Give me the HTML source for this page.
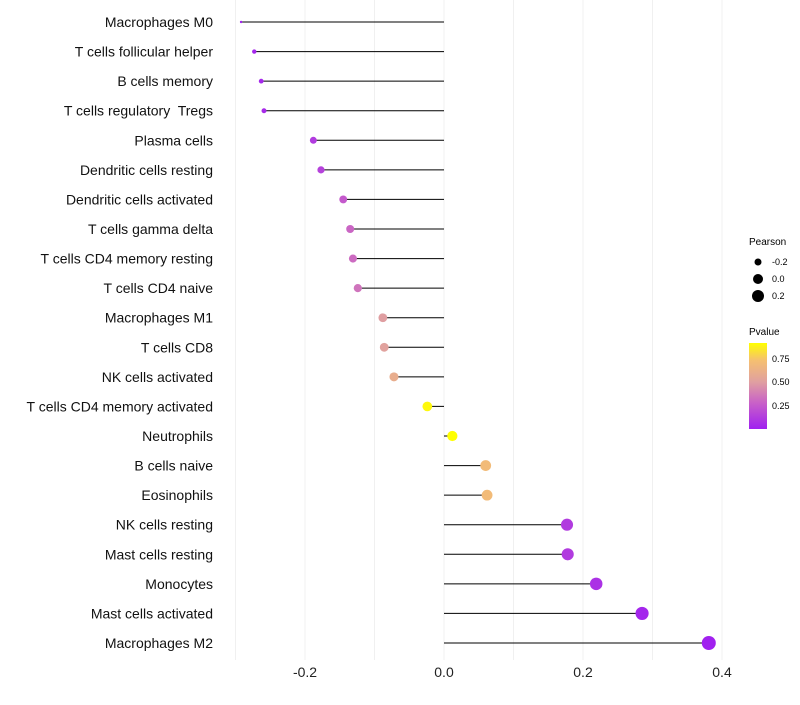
<!DOCTYPE html>
<html><head><meta charset="utf-8"><style>
body{margin:0;background:#fff;font-family:"Liberation Sans",sans-serif}
</style></head><body>
<svg id="chart" width="800" height="700" xmlns="http://www.w3.org/2000/svg">
<defs><linearGradient id="pg" x1="0" y1="1" x2="0" y2="0">
<stop offset="0" stop-color="#a020f0"/><stop offset="0.3" stop-color="#c860c8"/><stop offset="0.55" stop-color="#e0a0a0"/><stop offset="0.8" stop-color="#f5c070"/><stop offset="1" stop-color="#ffff00"/></linearGradient></defs>
<g id="grid"></g><g id="marks"></g><g id="labels"></g><g id="xticks"></g>
<g font-size="10">
<text x="749" y="245">Pearson</text>
<circle cx="758" cy="262" r="3.5" fill="#000"/><text x="772" y="265" font-size="9">-0.2</text>
<circle cx="758" cy="279" r="5" fill="#000"/><text x="772" y="282" font-size="9">0.0</text>
<circle cx="758" cy="296" r="6" fill="#000"/><text x="772" y="299" font-size="9">0.2</text>
<text x="749" y="335">Pvalue</text>
<rect x="749" y="343" width="18" height="86" fill="url(#pg)"/>
<text x="772" y="362" font-size="9">0.75</text><text x="772" y="385" font-size="9">0.50</text><text x="772" y="409" font-size="9">0.25</text>
</g>
</svg>
<script>
const cells=["Macrophages M0","T cells follicular helper","B cells memory","T cells regulatory  Tregs","Plasma cells","Dendritic cells resting","Dendritic cells activated","T cells gamma delta","T cells CD4 memory resting","T cells CD4 naive","Macrophages M1","T cells CD8","NK cells activated","T cells CD4 memory activated","Neutrophils","B cells naive","Eosinophils","NK cells resting","Mast cells resting","Monocytes","Mast cells activated","Macrophages M2"];
const pearson=[-0.292,-0.273,-0.263,-0.259,-0.188,-0.177,-0.145,-0.135,-0.131,-0.124,-0.088,-0.086,-0.072,-0.024,0.012,0.060,0.062,0.177,0.178,0.219,0.285,0.381];
const pvalue=[0.01,0.03,0.04,0.05,0.12,0.15,0.25,0.3,0.32,0.35,0.5,0.52,0.6,0.9,0.97,0.7,0.7,0.12,0.12,0.08,0.03,0.01];
const xTicks=[-0.2,0,0.2,0.4];
const xTickLabels=["-0.2","0.0","0.2","0.4"];
const NS="http://www.w3.org/2000/svg";
const x=v=>444+v*695;
const y=i=>22+i*(621/21);
const r=v=>1.2+5.8*Math.sqrt(Math.max(0,(v+0.292)/0.673));
function col(p){
 const stops=[[0,[160,32,240]],[0.3,[200,96,200]],[0.55,[224,160,160]],[0.8,[245,192,112]],[1,[255,255,0]]];
 const t=Math.max(0,Math.min(1,(p-0.005)/0.915));
 for(let k=1;k<stops.length;k++){if(t<=stops[k][0]){const a=stops[k-1],b=stops[k],f=(t-a[0])/(b[0]-a[0]);return "rgb("+a[1].map((c,j)=>Math.round(c+(b[1][j]-c)*f)).join(",")+")";}}
 return "rgb(255,255,0)";
}
function mk(t,attrs,parent){const e=document.createElementNS(NS,t);for(const k in attrs)e.setAttribute(k,attrs[k]);parent.appendChild(e);return e;}
const grid=document.getElementById('grid'),marks=document.getElementById('marks'),labels=document.getElementById('labels'),xt=document.getElementById('xticks');
for(let v=-0.3;v<=0.41;v+=0.1){const l=mk('line',{x1:x(v),x2:x(v),y1:0,y2:660,stroke:'#f0f0f0','stroke-width':1},grid);

}
xTicks.forEach((v,i)=>{const t=mk('text',{x:x(v),y:677,'text-anchor':'middle','font-size':14,fill:'#222'},xt);t.textContent=xTickLabels[i];

});
cells.forEach((c,i)=>{
 const l=mk('line',{x1:x(0),x2:x(pearson[i]),y1:y(i),y2:y(i),stroke:'#000','stroke-width':1},marks);
 
 
 const ci=mk('circle',{cx:x(pearson[i]),cy:y(i),r:r(pearson[i]),fill:col(pvalue[i])},marks);
 
 
 const t=mk('text',{x:213,y:y(i)+5,'text-anchor':'end','font-size':14,fill:'#111'},labels);
 t.setAttribute('xml:space','preserve');t.style.whiteSpace='pre';
 t.textContent=c;
 
 
});
</script>
</body></html>
